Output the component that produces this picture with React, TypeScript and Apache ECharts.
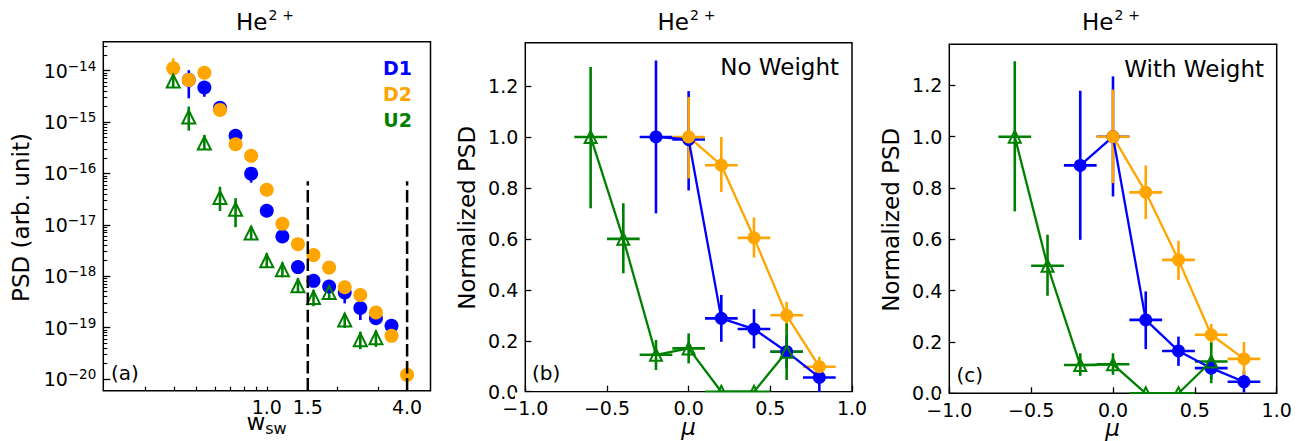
import React, { useEffect, useRef } from 'react';
import * as echarts from 'echarts';

const FONT = 'DejaVu Sans';
const BLUE = '#0000ff';
const ORANGE = '#ffa500';
const GREEN = '#008000';
const BLACK = '#000000';

// ---------- Panel (a): PSD vs w_sw ----------
const wBins = [0.397, 0.463, 0.54, 0.63, 0.735, 0.857, 1.0, 1.167, 1.361, 1.587, 1.852, 2.16, 2.52, 2.94, 3.429, 4.0];
const d1Psd = [null, 6.6e-15, 4.7e-15, 1.9e-15, 5.4e-16, 9.9e-17, 1.88e-17, 5.9e-18, 1.5e-18, 8.1e-19, 6.3e-19, 4.8e-19, 2.4e-19, 1.52e-19, 1.08e-19, null];
const d1Lo = [null, 2.9e-15, 3.1e-15, null, null, 6.6e-17, null, null, null, null, null, 2.95e-19, 1.4e-19, 1.23e-19, null, null];
const d1Hi = [null, 1.02e-14, null, null, null, null, null, null, null, null, null, null, null, null, null, null];
const d2Psd = [1.11e-14, 6.6e-15, 9.1e-15, 1.72e-15, 3.7e-16, 2.2e-16, 4.8e-17, 1.05e-17, 4.2e-18, 2.57e-18, 1.47e-18, 6.1e-19, 4.3e-19, 1.96e-19, 6.9e-20, 1.2e-20];
const d2Lo = [null, null, null, null, null, null, null, null, null, null, null, null, null, null, null, null];
const d2Hi = [1.74e-14, null, null, null, null, null, null, null, null, null, null, null, null, null, null, 2.0e-20];
const u2Psd = [6.3e-15, 1.25e-15, 3.9e-16, 3.4e-17, 2.0e-17, 6.9e-18, 2.0e-18, 1.33e-18, 6.5e-19, 3.85e-19, 4.8e-19, 1.4e-19, 5.8e-20, 6.3e-20, null, null];
const u2Lo = [4.8e-15, 6.8e-16, 2.86e-16, 1.86e-17, 9.0e-18, 5.2e-18, 1.45e-18, 9.5e-19, 4.7e-19, 2.6e-19, 3.5e-19, 9.8e-20, 3.8e-20, 4.2e-20, null, null];
const u2Hi = [9.1e-15, 2.0e-15, 5.6e-16, 5.5e-17, 3.3e-17, 9.3e-18, 2.8e-18, 1.86e-18, 9.1e-19, 5.4e-19, 6.8e-19, 1.9e-19, 8.3e-20, 8.9e-20, null, null];
const dashW = [1.5, 4.0];
const dashTop = 7e-17;
const wTickLabels = [1.0, 1.5, 4.0];
const wMinorTicks = [0.3, 0.4, 0.5, 0.6, 0.7, 0.8, 0.9, 1.0, 2.0, 3.0];
const psdDecades = [1e-20, 1e-19, 1e-18, 1e-17, 1e-16, 1e-15, 1e-14];
const psdMin = 5.9e-21;
const psdMax = 3.66e-14;
const wMin = 0.199;
const wMax = 5.04;

// ---------- Panel (b): No Weight ----------
const muU2 = [-0.6, -0.4, -0.2, 0.0, 0.2, 0.4, 0.6];
const muD1 = [-0.2, 0.0, 0.2, 0.4, 0.6, 0.8];
const muD2 = [0.0, 0.2, 0.4, 0.6, 0.8];
const xHalfWidth = 0.1;

const bU2 = [1.0, 0.6, 0.145, 0.17, 0.0, 0.0, 0.157];
const bU2Lo = [0.72, 0.465, 0.085, 0.111, null, null, 0.046];
const bU2Hi = [1.275, 0.74, 0.203, 0.229, null, null, 0.268];
const bD1 = [1.0, 0.99, 0.288, 0.246, 0.157, 0.056];
const bD1Lo = [0.7, 0.79, 0.196, 0.17, 0.092, 0.0];
const bD1Hi = [1.3, 1.18, 0.38, 0.324, 0.222, 0.11];
const bD2 = [1.0, 0.889, 0.604, 0.3, 0.098];
const bD2Lo = [0.837, 0.784, 0.527, 0.24, 0.061];
const bD2Hi = [1.157, 1.0, 0.684, 0.353, 0.137];

// ---------- Panel (c): With Weight ----------
const cU2 = [1.0, 0.497, 0.11, 0.113, 0.0, 0.0, 0.124];
const cU2Lo = [0.709, 0.38, 0.068, 0.072, null, null, 0.039];
const cU2Hi = [1.294, 0.618, 0.156, 0.156, null, null, 0.198];
const cD1 = [0.888, 1.0, 0.286, 0.165, 0.098, 0.045];
const cD1Lo = [0.598, 0.767, 0.172, 0.107, 0.055, 0.003];
const cD1Hi = [1.179, 1.235, 0.397, 0.221, 0.143, 0.087];
const cD2 = [1.0, 0.783, 0.52, 0.228, 0.134];
const cD2Lo = [0.819, 0.679, 0.442, 0.178, 0.072];
const cD2Hi = [1.183, 0.888, 0.594, 0.27, 0.2];

const normTicks = [0.0, 0.2, 0.4, 0.6, 0.8, 1.0, 1.2];

function errRows(xs: number[], v: (number | null)[], lo: (number | null)[], hi: (number | null)[], xh: number) {
  const rows: number[][] = [];
  xs.forEach((x, i) => {
    const y = v[i];
    if (y == null) return;
    rows.push([x, y, lo[i] ?? y, hi[i] ?? y, x - xh, x + xh]);
  });
  return rows;
}

function errSeries(xi: number, yi: number, color: string, rows: number[][], lw: number) {
  return {
    type: 'custom',
    xAxisIndex: xi,
    yAxisIndex: yi,
    silent: true,
    encode: { x: 0, y: 1 },
    data: rows,
    renderItem: (_p: any, api: any) => {
      const x = api.value(0);
      const y = api.value(1);
      const ylo = api.value(2);
      const yhi = api.value(3);
      const xlo = api.value(4);
      const xhi = api.value(5);
      const children: any[] = [];
      const style = { stroke: color, lineWidth: lw, fill: null };
      if (ylo !== yhi) {
        const a = api.coord([x, ylo]);
        const b = api.coord([x, yhi]);
        children.push({ type: 'line', shape: { x1: a[0], y1: a[1], x2: b[0], y2: b[1] }, style });
      }
      if (xlo !== xhi) {
        const a = api.coord([xlo, y]);
        const b = api.coord([xhi, y]);
        children.push({ type: 'line', shape: { x1: a[0], y1: a[1], x2: b[0], y2: b[1] }, style });
      }
      return { type: 'group', children };
    },
  };
}

function pairs(xs: number[], v: (number | null)[]) {
  const out: number[][] = [];
  xs.forEach((x, i) => {
    if (v[i] != null) out.push([x, v[i] as number]);
  });
  return out;
}

function markerStyle(color: string, hollow: boolean) {
  return hollow
    ? { color: 'rgba(255,255,255,0)', borderColor: color, borderWidth: 2, opacity: 1 }
    : { color, borderWidth: 0, opacity: 1 };
}

function lineSeries(xi: number, yi: number, color: string, data: number[][], hollow: boolean) {
  return {
    type: 'line',
    xAxisIndex: xi,
    yAxisIndex: yi,
    data,
    symbol: hollow ? 'triangle' : 'circle',
    symbolSize: hollow ? 12 : 13,
    showSymbol: true,
    showAllSymbol: true,
    clip: false,
    silent: true,
    lineStyle: { color, width: 2.3 },
    itemStyle: markerStyle(color, hollow),
    emphasis: { disabled: true },
  };
}

function scatterSeries(color: string, data: number[][], hollow: boolean) {
  return {
    type: 'scatter',
    xAxisIndex: 0,
    yAxisIndex: 0,
    data,
    symbol: hollow ? 'triangle' : 'circle',
    symbolSize: hollow ? 13 : 14,
    silent: true,
    itemStyle: markerStyle(color, hollow),
    emphasis: { disabled: true },
  };
}

const tickLabelBase = { color: BLACK, fontFamily: FONT, fontSize: 19 };

const grids = [
  { left: 103.3, top: 41.7, width: 327.2, height: 349 },
  { left: 525.3, top: 42.7, width: 326.7, height: 349 },
  { left: 949.3, top: 44.3, width: 327.4, height: 349 },
];

function psdMinorTicks() {
  const out: number[] = [];
  for (let e = -21; e <= -14; e++) {
    for (let m = 2; m <= 9; m++) {
      const v = m * Math.pow(10, e);
      if (v > psdMin && v < psdMax) out.push(v);
    }
  }
  return out;
}

function titleEl(cx: number, cy: number) {
  return {
    type: 'text',
    x: cx,
    y: cy,
    silent: true,
    style: {
      text: '{h|He}{s|2}{p|+}',
      align: 'center',
      verticalAlign: 'middle',
      rich: {
        h: { fontSize: 23, lineHeight: 28, fontFamily: FONT, fill: BLACK },
        s: { fontSize: 14, lineHeight: 21, verticalAlign: 'top', fontFamily: FONT, fill: BLACK, padding: [0, 5, 0, 1] },
        p: { fontSize: 14, lineHeight: 21, verticalAlign: 'top', fontFamily: FONT, fill: BLACK },
      },
    },
  };
}

function textEl(x: number, y: number, text: string, opts: any = {}) {
  return {
    type: 'text',
    x,
    y,
    silent: true,
    rotation: opts.rotation || 0,
    style: {
      text,
      fontSize: opts.fontSize || 23,
      fontFamily: FONT,
      fontWeight: opts.fontWeight || 'normal',
      fontStyle: opts.fontStyle || 'normal',
      fill: opts.color || BLACK,
      align: opts.align || 'center',
      verticalAlign: 'middle',
      rich: opts.rich,
    },
  };
}

export default function App() {
  const ref = useRef<HTMLDivElement>(null);
  useEffect(() => {
    if (!ref.current) return;
    const chart = echarts.init(ref.current, null, { renderer: 'svg' });

    const muAxisX = (gi: number) => ({
      type: 'value',
      gridIndex: gi,
      min: -1,
      max: 1,
      interval: 0.5,
      axisLine: { show: false, onZero: false },
      splitLine: { show: false },
      axisTick: { inside: true, length: 6, lineStyle: { color: BLACK, width: 1.3 } },
      axisLabel: {
        ...tickLabelBase,
        margin: 7,
        formatter: (v: number) => (v < 0 ? '\u2212' : '') + Math.abs(v).toFixed(1),
      },
    });
    const normAxisY = (gi: number, max: number) => ({
      type: 'value',
      gridIndex: gi,
      min: 0,
      max,
      interval: 0.2,
      position: 'left',
      axisLine: { show: false, onZero: false },
      splitLine: { show: false },
      axisTick: { inside: true, length: 6, customValues: normTicks, lineStyle: { color: BLACK, width: 1.3 } },
      axisLabel: {
        ...tickLabelBase,
        margin: 7,
        customValues: normTicks,
        formatter: (v: number) => {
          const k = v / 0.2;
          return Math.abs(k - Math.round(k)) < 1e-6 ? v.toFixed(1) : '';
        },
      },
    });

    const option: any = {
      animation: false,
      backgroundColor: '#ffffff',
      grid: grids.map((g) => ({
        ...g,
        show: true,
        borderColor: BLACK,
        borderWidth: 1.5,
        backgroundColor: 'transparent',
        containLabel: false,
        outerBoundsMode: 'none',
      })),
      xAxis: [
        {
          type: 'log',
          logBase: 10,
          gridIndex: 0,
          min: wMin,
          max: wMax,
          axisLine: { show: false, onZero: false },
          splitLine: { show: false },
          minorTick: { show: false },
          axisTick: { inside: true, length: 4, customValues: wMinorTicks, lineStyle: { color: BLACK, width: 1.2 } },
          axisLabel: {
            ...tickLabelBase,
            margin: 7,
            customValues: wTickLabels,
            formatter: (v: number) => v.toFixed(1),
          },
        },
        muAxisX(1),
        muAxisX(2),
      ],
      yAxis: [
        {
          type: 'log',
          logBase: 10,
          gridIndex: 0,
          min: psdMin,
          max: psdMax,
          position: 'left',
          axisLine: { show: false, onZero: false },
          splitLine: { show: false },
          minorTick: { show: false },
          axisTick: { inside: true, length: 7, customValues: psdDecades, lineStyle: { color: BLACK, width: 1.3 } },
          axisLabel: {
            margin: 7,
            customValues: psdDecades,
            formatter: (v: number) => {
              const e = Math.round(Math.log10(v));
              return '{b|10}{s|\u2212' + Math.abs(e) + '}';
            },
            rich: {
              b: { fontSize: 19, lineHeight: 24, fontFamily: FONT, color: BLACK },
              s: { fontSize: 13.5, lineHeight: 14, verticalAlign: 'top', fontFamily: FONT, color: BLACK },
            },
          },
        },
        {
          type: 'log',
          logBase: 10,
          gridIndex: 0,
          min: psdMin,
          max: psdMax,
          position: 'left',
          offset: 0,
          axisLine: { show: false, onZero: false },
          splitLine: { show: false },
          minorTick: { show: false },
          axisTick: { inside: true, length: 4, customValues: psdMinorTicks(), lineStyle: { color: BLACK, width: 1.1 } },
          axisLabel: { show: false },
        },
        normAxisY(1, 1.37),
        normAxisY(2, 1.36),
      ],
      series: [
        // panel (a)
        ...dashW.map((w) => ({
          type: 'line',
          xAxisIndex: 0,
          yAxisIndex: 0,
          data: [
            [w, psdMin],
            [w, dashTop],
          ],
          symbol: 'none',
          silent: true,
          lineStyle: { color: BLACK, width: 2.5, type: [12.6, 4.5] },
        })),
        errSeries(0, 0, BLUE, errRows(wBins, d1Psd, d1Lo, d1Hi, 0), 2.6),
        scatterSeries(BLUE, pairs(wBins, d1Psd), false),
        errSeries(0, 0, ORANGE, errRows(wBins, d2Psd, d2Lo, d2Hi, 0), 2.6),
        scatterSeries(ORANGE, pairs(wBins, d2Psd), false),
        errSeries(0, 0, GREEN, errRows(wBins, u2Psd, u2Lo, u2Hi, 0), 2.6),
        scatterSeries(GREEN, pairs(wBins, u2Psd), true),
        // panel (b)
        errSeries(1, 2, BLUE, errRows(muD1, bD1, bD1Lo, bD1Hi, xHalfWidth), 2.6),
        lineSeries(1, 2, BLUE, pairs(muD1, bD1), false),
        errSeries(1, 2, ORANGE, errRows(muD2, bD2, bD2Lo, bD2Hi, xHalfWidth), 2.6),
        lineSeries(1, 2, ORANGE, pairs(muD2, bD2), false),
        errSeries(1, 2, GREEN, errRows(muU2, bU2, bU2Lo, bU2Hi, xHalfWidth), 2.6),
        lineSeries(1, 2, GREEN, pairs(muU2, bU2), true),
        // panel (c)
        errSeries(2, 3, BLUE, errRows(muD1, cD1, cD1Lo, cD1Hi, xHalfWidth), 2.6),
        lineSeries(2, 3, BLUE, pairs(muD1, cD1), false),
        errSeries(2, 3, ORANGE, errRows(muD2, cD2, cD2Lo, cD2Hi, xHalfWidth), 2.6),
        lineSeries(2, 3, ORANGE, pairs(muD2, cD2), false),
        errSeries(2, 3, GREEN, errRows(muU2, cU2, cU2Lo, cU2Hi, xHalfWidth), 2.6),
        lineSeries(2, 3, GREEN, pairs(muU2, cU2), true),
      ],
      graphic: {
        elements: [
          // masks clipping markers below the bottom axis of (b) and (c)
          { type: 'rect', z: 50, zlevel: 0, silent: true, shape: { x: 515, y: 392.5, width: 345, height: 7.8 }, style: { fill: '#ffffff' } },
          { type: 'rect', z: 50, zlevel: 0, silent: true, shape: { x: 940, y: 394.1, width: 345, height: 7.8 }, style: { fill: '#ffffff' } },
          titleEl(265, 22),
          titleEl(686.5, 22),
          titleEl(1111, 22),
          textEl(20.7, 217.5, 'PSD (arb. unit)', { rotation: Math.PI / 2 }),
          textEl(467, 217.8, 'Normalized PSD', { rotation: Math.PI / 2 }),
          textEl(891.3, 219.7, 'Normalized PSD', { rotation: Math.PI / 2 }),
          textEl(266.5, 422, '{w|w}{s|sw}', {
            rich: {
              w: { fontSize: 23, lineHeight: 28, fontFamily: FONT, fill: BLACK },
              s: { fontSize: 16, lineHeight: 16, verticalAlign: 'bottom', fontFamily: FONT, fill: BLACK },
            },
          }),
          textEl(688.5, 427, '\u03bc', { fontStyle: 'italic' }),
          textEl(1112.5, 428, '\u03bc', { fontStyle: 'italic' }),
          textEl(412, 68.3, 'D1', { color: BLUE, fontWeight: 'bold', fontSize: 19, align: 'right' }),
          textEl(412, 94.3, 'D2', { color: ORANGE, fontWeight: 'bold', fontSize: 19, align: 'right' }),
          textEl(412, 120, 'U2', { color: GREEN, fontWeight: 'bold', fontSize: 19, align: 'right' }),
          textEl(111, 373, '(a)', { fontSize: 20, align: 'left' }),
          textEl(532, 373.3, '(b)', { fontSize: 20, align: 'left' }),
          textEl(956.5, 375, '(c)', { fontSize: 20, align: 'left' }),
          textEl(839, 67, 'No Weight', { align: 'right' }),
          textEl(1264, 68.5, 'With Weight', { align: 'right' }),
        ],
      },
    };

    chart.setOption(option);
    return () => chart.dispose();
  }, []);

  return (
    <div
      ref={ref}
      style={{ position: 'fixed', left: 0, top: 0, width: 1301, height: 441, background: '#fff' }}
    />
  );
}
